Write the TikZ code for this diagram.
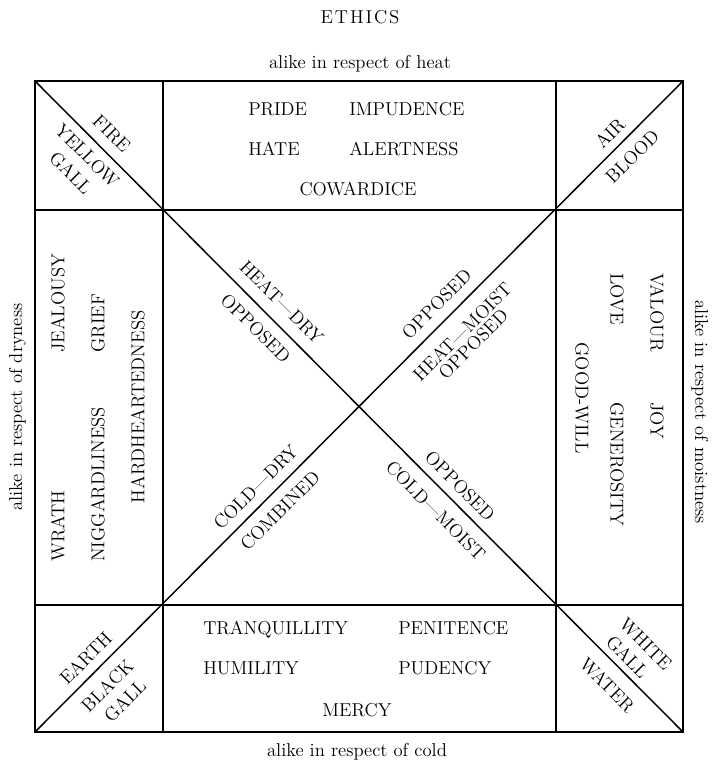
\documentclass[tikz,border=0pt]{standalone}
\begin{document}
\begin{tikzpicture}[x=0.75pt,y=-0.75pt,
  frame/.style={line width=1.3pt},
  rule/.style={line width=1.1pt},
  word/.style={font=\fontsize{14}{16}\selectfont, inner sep=0pt, text height=9.6pt, text depth=0pt},
  note/.style={font=\fontsize{14}{16}\selectfont, inner sep=0pt}]
\useasboundingbox[fill=white] (0,0) rectangle (711,761);
% frame coordinates
\coordinate (TL) at (35,81);
\coordinate (TR) at (683,81);
\coordinate (BR) at (683,732);
\coordinate (BL) at (35,732);
\coordinate (vlT) at (163,81);
\coordinate (vlB) at (163,732);
\coordinate (vrT) at (556,81);
\coordinate (vrB) at (556,732);
\coordinate (htL) at (35,210);
\coordinate (htR) at (683,210);
\coordinate (hbL) at (35,605);
\coordinate (hbR) at (683,605);
\draw[frame] (TL) -- (TR) -- (BR) -- (BL) -- cycle;
\draw[rule] (vlT) -- (vlB);
\draw[rule] (vrT) -- (vrB);
\draw[rule] (htL) -- (htR);
\draw[rule] (hbL) -- (hbR);
\draw[rule] (TL) -- (BR);
\draw[rule] (TR) -- (BL);
% titles
\node[note, anchor=base] (title) at (360,23) {E\kern1.4pt T\kern1.4pt H\kern1.4pt I\kern1.4pt C\kern1.4pt S};
\node[note, anchor=base] (heat) at (360,68) {alike in respect of heat};
\node[note, anchor=base] (cold) at (357,756) {alike in respect of cold};
\node[note, anchor=base, rotate=90] (dry) at (22,407) {alike in respect of dryness};
\node[note, anchor=base, rotate=-90] (moist) at (695,412) {alike in respect of moistness};
% corners
\node[word, rotate=-45] (fire) at (111.7,133.3) {FIRE};
\node[word, rotate=-45] (yellow) at (87.3,155.7) {YELLOW};
\node[word, rotate=-45] (gallA) at (70.7,173.3) {GALL};
\node[word, rotate=45] (air) at (610,133.3) {AIR};
\node[word, rotate=45] (blood) at (632.3,156.7) {BLOOD};
\node[word, rotate=45] (earth) at (85.7,658.3) {EARTH};
\node[word, rotate=45] (black) at (107.3,686) {BLACK};
\node[word, rotate=45] (gallB) at (125,700.7) {GALL};
\node[word, rotate=-45] (white) at (645.7,644) {WHITE};
\node[word, rotate=-45] (gallC) at (627.3,657.3) {GALL};
\node[word, rotate=-45] (water) at (607.3,685) {WATER};
% centre diagonals
\node[word, rotate=-45] (heatdry) at (281.7,302.3) {HEAT---DRY};
\node[word, rotate=-45] (oppA) at (255.7,328.3) {OPPOSED};
\node[word, rotate=45] (oppB) at (436.7,304) {OPPOSED};
\node[word, rotate=45] (heatmoist) at (462.3,331.7) {HEAT---MOIST};
\node[word, rotate=45] (oppC) at (473.3,344) {OPPOSED};
\node[word, rotate=45] (colddry) at (255.7,487.3) {COLD---DRY};
\node[word, rotate=45] (combined) at (280,510.7) {COMBINED};
\node[word, rotate=-45] (oppD) at (460,485.7) {OPPOSED};
\node[word, rotate=-45] (coldmoist) at (435.7,510.7) {COLD---MOIST};
% top box
\node[word, anchor=west] (pride) at (248,109) {PRIDE};
\node[word, anchor=west] (impudence) at (349,109) {IMPUDENCE};
\node[word, anchor=west] (hate) at (248,149) {HATE};
\node[word, anchor=west] (alertness) at (349,149) {ALERTNESS};
\node[word] (cowardice) at (358,189) {COWARDICE};
% bottom box
\node[word, anchor=west] (tranq) at (203,628) {TRANQUILLITY};
\node[word, anchor=west] (penitence) at (398,628) {PENITENCE};
\node[word, anchor=west] (humility) at (203,668) {HUMILITY};
\node[word, anchor=west] (pudency) at (398,668) {PUDENCY};
\node[word] (mercy) at (357,710) {MERCY};
% left box
\node[word, anchor=west, rotate=90] (wrath) at (58,562) {WRATH};
\node[word, anchor=west, rotate=90] (jealousy) at (58,353) {JEALOUSY};
\node[word, anchor=west, rotate=90] (nigg) at (98,562) {NIGGARDLINESS};
\node[word, anchor=west, rotate=90] (grief) at (98,353) {GRIEF};
\node[word, rotate=90] (hardh) at (138,407) {HARDHEARTEDNESS};
% right box
\node[word, anchor=west, rotate=-90] (valour) at (657,273) {VALOUR};
\node[word, anchor=west, rotate=-90] (joy) at (657,402) {JOY};
\node[word, anchor=west, rotate=-90] (love) at (617,273) {LOVE};
\node[word, anchor=west, rotate=-90] (generosity) at (617,402) {GENEROSITY};
\node[word, rotate=-90] (goodwill) at (582,398) {GOOD-WILL};
\end{tikzpicture}
\end{document}
